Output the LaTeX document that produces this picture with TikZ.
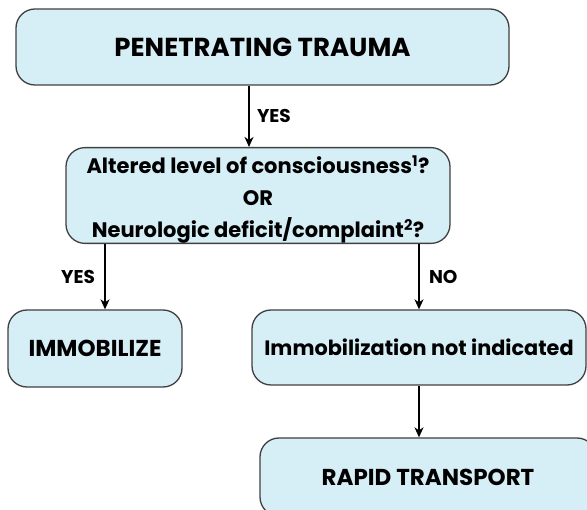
\documentclass[tikz,border=0pt]{standalone}
\usepackage{fontspec}
\usetikzlibrary{arrows.meta}
\setmainfont{Poppins}
\definecolor{boxblue}{HTML}{D6EEF5}

\begin{document}
\begin{tikzpicture}[x=1pt, y=-1pt,
    box/.style={draw=black!75, line width=1.3pt, fill=boxblue,
                rounded corners=19pt, align=center, inner sep=0pt, font=\bfseries},
    arr/.style={-{Stealth[length=10pt, width=9pt, inset=3pt]}, line width=1.4pt},
    lbl/.style={font=\bfseries\fontsize{18.5}{20}\selectfont}]
                    \useasboundingbox (0,0) rectangle (587,510);
                    \clip (0,0) rectangle (587,510);

                    \node[box, minimum width=493pt, minimum height=76pt, font=\bfseries\fontsize{26}{30}\selectfont] (trauma) at (262.5,47) {PENETRATING TRAUMA};
                    \node[box, minimum width=384pt, minimum height=95pt, font=\bfseries\fontsize{21}{32}\selectfont] (loc) at (258,195.5)
                        {\rule{0pt}{26pt}Altered level of consciousness\textsuperscript{1}?\\OR\\Neurologic deficit/complaint\textsuperscript{2}?};
                    \node[box, minimum width=174pt, minimum height=77pt, font=\bfseries\fontsize{23}{26}\selectfont] (immob) at (95,348.5) {IMMOBILIZE};
                    \node[box, minimum width=334pt, minimum height=75pt, font=\bfseries\fontsize{20.8}{24}\selectfont] (notind) at (419,347.5) {Immobilization not indicated};
                    \node[box, minimum width=336pt, minimum height=78pt, font=\bfseries\fontsize{23}{26}\selectfont] (rapid) at (428,477) {RAPID TRANSPORT};

                    \coordinate (c1) at (249,0);
                    \coordinate (c2) at (105,0);
                    \draw[arr] (trauma.south -| c1) --node[lbl, right=4pt] {YES} (loc.north -| c1);
                    \draw[arr] (loc.south -| c2) --node[lbl, left=6pt] {YES} (immob.north -| c2);
                    \draw[arr] (loc.south -| notind.north) --node[lbl, right=6pt] {NO} (notind.north);
                    \draw[arr] (notind.south) -- (notind.south |- rapid.north);
                    %箭头%
                \end{tikzpicture}
\end{document}
